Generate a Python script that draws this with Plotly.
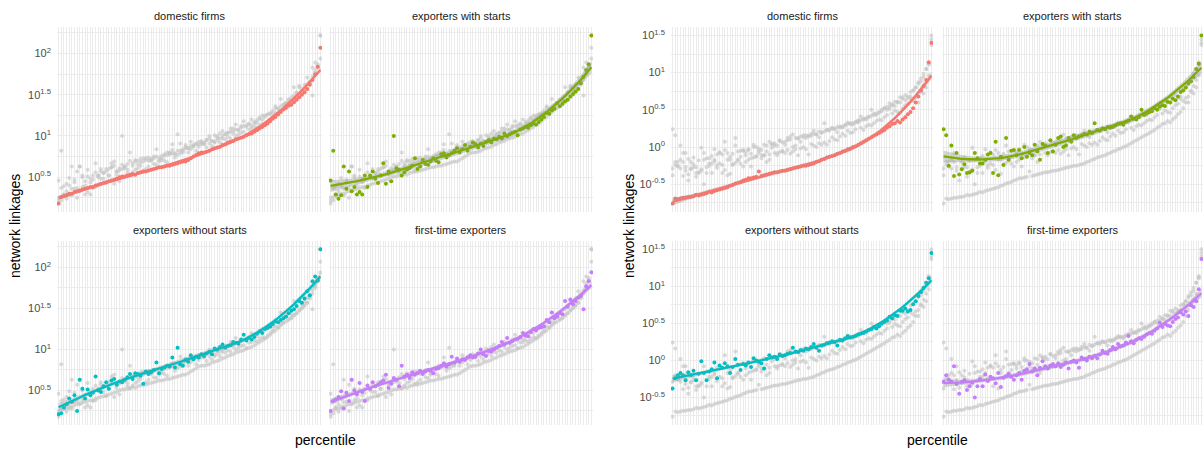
import numpy as np
import plotly.graph_objects as go

percentile = list(range(1, 101))
groups = ["domestic firms", "exporters with starts", "exporters without starts", "first-time exporters"]
colors = ["#F8766D", "#7CAE00", "#00BFC4", "#C77CFF"]

# ---- left chart: log10(network linkages) per percentile ----
left_domestic_log10 = [
    0.18, 0.26, 0.27, 0.28, 0.30, 0.30, 0.32, 0.33, 0.34, 0.35,
    0.36, 0.37, 0.38, 0.38, 0.40, 0.41, 0.42, 0.43, 0.44, 0.45,
    0.46, 0.47, 0.48, 0.50, 0.51, 0.51, 0.52, 0.53, 0.54, 0.53,
    0.55, 0.56, 0.57, 0.57, 0.58, 0.59, 0.60, 0.61, 0.62, 0.62,
    0.63, 0.64, 0.64, 0.65, 0.66, 0.67, 0.68, 0.69, 0.69, 0.71,
    0.73, 0.75, 0.77, 0.79, 0.80, 0.80, 0.81, 0.82, 0.84, 0.85,
    0.86, 0.87, 0.89, 0.90, 0.92, 0.93, 0.94, 0.96, 0.97, 0.98,
    0.99, 1.01, 1.02, 1.03, 1.05, 1.07, 1.09, 1.11, 1.13, 1.15,
    1.18, 1.21, 1.23, 1.26, 1.29, 1.32, 1.34, 1.37, 1.38, 1.41,
    1.44, 1.47, 1.50, 1.53, 1.57, 1.62, 1.68, 1.75, 1.84, 2.07]
left_with_starts_log10 = [
    0.46, 0.82, 0.29, 0.24, 0.28, 0.63, 0.36, 0.57, 0.33, 0.38,
    0.29, 0.32, 0.29, 0.52, 0.38, 0.52, 0.57, 0.48, 0.43, 0.52,
    0.67, 0.42, 0.57, 0.45, 1.00, 0.61, 0.59, 0.52, 0.56, 0.59,
    0.61, 0.64, 0.73, 0.60, 0.63, 0.71, 0.66, 0.65, 0.69, 0.73,
    0.70, 0.68, 0.78, 0.79, 0.74, 0.77, 0.79, 0.82, 0.85, 0.80,
    0.84, 0.89, 0.82, 0.87, 0.92, 0.90, 0.86, 0.91, 0.88, 0.93,
    0.95, 0.92, 0.97, 0.96, 0.99, 0.97, 1.03, 1.00, 1.02, 1.04,
    1.05, 1.01, 1.08, 1.09, 1.11, 1.10, 1.13, 1.15, 1.14, 1.17,
    1.20, 1.23, 1.28, 1.27, 1.31, 1.33, 1.40, 1.36, 1.39, 1.42,
    1.44, 1.48, 1.51, 1.54, 1.57, 1.64, 1.72, 1.80, 1.87, 2.22]
left_without_starts_log10 = [
    0.21, 0.22, 0.29, 0.33, 0.40, 0.36, 0.44, 0.25, 0.63, 0.52,
    0.40, 0.51, 0.44, 0.47, 0.67, 0.50, 0.48, 0.55, 0.60, 0.52,
    0.62, 0.64, 0.57, 0.61, 0.60, 0.63, 0.66, 0.70, 0.64, 0.71,
    0.70, 0.68, 0.58, 0.73, 0.70, 0.72, 0.75, 0.84, 0.71, 0.76,
    0.78, 0.80, 0.79, 0.90, 0.78, 1.02, 0.82, 0.80, 0.87, 0.85,
    0.93, 0.88, 0.91, 0.90, 0.94, 0.92, 0.95, 0.97, 0.94, 1.01,
    1.00, 1.03, 1.06, 1.02, 1.04, 1.05, 1.09, 1.08, 1.07, 1.12,
    1.18, 1.11, 1.14, 1.12, 1.15, 1.19, 1.22, 1.20, 1.25, 1.26,
    1.28, 1.31, 1.34, 1.33, 1.36, 1.38, 1.40, 1.44, 1.47, 1.49,
    1.53, 1.59, 1.57, 1.62, 1.71, 1.66, 1.83, 1.89, 1.84, 2.22]
left_first_time_log10 = [
    0.25, 0.37, 0.39, 0.42, 0.49, 0.28, 0.47, 0.37, 0.63, 0.50,
    0.45, 0.59, 0.48, 0.37, 0.56, 0.52, 0.60, 0.55, 0.57, 0.60,
    0.62, 0.69, 0.53, 0.58, 0.65, 0.63, 0.55, 0.80, 0.67, 0.69,
    0.65, 0.72, 0.69, 0.71, 0.74, 0.70, 0.73, 0.75, 0.74, 0.71,
    0.76, 0.77, 0.80, 0.83, 0.79, 0.82, 0.91, 0.84, 0.89, 0.85,
    0.88, 0.87, 0.90, 0.93, 0.90, 0.91, 0.95, 1.00, 0.94, 0.92,
    0.98, 0.97, 1.00, 1.02, 1.04, 1.09, 1.06, 1.14, 1.08, 1.10,
    1.12, 1.13, 1.15, 1.20, 1.17, 1.16, 1.21, 1.25, 1.23, 1.26,
    1.27, 1.28, 1.36, 1.33, 1.45, 1.38, 1.40, 1.44, 1.43, 1.59,
    1.52, 1.61, 1.55, 1.59, 1.63, 1.65, 1.49, 1.77, 1.83, 1.94]

# ---- right chart ----
right_domestic_log10 = [
    -0.76, -0.69, -0.70, -0.69, -0.68, -0.68, -0.67, -0.67, -0.66, -0.64,
    -0.65, -0.64, -0.63, -0.62, -0.60, -0.61, -0.59, -0.58, -0.57, -0.56,
    -0.55, -0.54, -0.52, -0.51, -0.49, -0.48, -0.47, -0.45, -0.44, -0.42,
    -0.42, -0.41, -0.40, -0.33, -0.39, -0.38, -0.37, -0.36, -0.35, -0.34,
    -0.34, -0.33, -0.32, -0.32, -0.31, -0.30, -0.29, -0.28, -0.27, -0.26,
    -0.25, -0.25, -0.24, -0.23, -0.22, -0.20, -0.19, -0.17, -0.16, -0.14,
    -0.13, -0.12, -0.11, -0.09, -0.08, -0.06, -0.05, -0.03, -0.02, 0.00,
    0.01, 0.03, 0.05, 0.07, 0.09, 0.11, 0.13, 0.15, 0.17, 0.19,
    0.21, 0.23, 0.26, 0.28, 0.31, 0.32, 0.35, 0.33, 0.37, 0.40,
    0.44, 0.47, 0.52, 0.60, 0.68, 0.76, 0.82, 0.90, 1.14, 1.40]
right_with_starts_log10 = [
    0.24, 0.16, -0.25, 0.02, -0.39, -0.08, -0.37, -0.30, -0.23, -0.35,
    -0.34, -0.32, -0.08, -0.15, -0.22, -0.22, -0.17, -0.10, -0.08, -0.35,
    0.07, -0.38, -0.13, -0.24, 0.12, -0.17, -0.05, -0.04, -0.11, -0.04,
    -0.15, 0.00, -0.13, -0.08, -0.11, 0.03, -0.06, -0.17, 0.04, 0.02,
    -0.08, 0.09, -0.06, 0.03, 0.12, 0.14, 0.00, 0.02, 0.12, 0.07,
    0.16, 0.12, 0.14, 0.15, 0.18, 0.17, 0.21, 0.19, 0.32, 0.23,
    0.22, 0.25, 0.24, 0.27, 0.26, 0.27, 0.29, 0.31, 0.32, 0.30,
    0.34, 0.36, 0.41, 0.38, 0.37, 0.40, 0.50, 0.43, 0.45, 0.47,
    0.48, 0.52, 0.50, 0.54, 0.56, 0.55, 0.61, 0.60, 0.65, 0.63,
    0.68, 0.74, 0.76, 0.80, 0.85, 0.88, 0.94, 1.05, 1.12, 1.50]
right_without_starts_log10 = [
    -0.38, -0.24, -0.20, -0.17, -0.20, -0.27, -0.16, -0.20, -0.14, -0.27,
    -0.18, -0.01, -0.17, -0.27, -0.15, -0.12, -0.03, -0.24, -0.07, -0.10,
    -0.04, -0.08, -0.17, -0.09, 0.02, -0.06, -0.13, -0.05, -0.07, -0.03,
    -0.09, 0.03, 0.00, -0.02, -0.04, -0.11, 0.02, 0.07, 0.04, 0.05,
    0.02, 0.08, 0.06, 0.07, 0.09, 0.10, 0.17, 0.12, 0.11, 0.14,
    0.13, 0.16, 0.15, 0.18, 0.22, 0.17, 0.13, 0.20, 0.21, 0.23,
    0.24, 0.26, 0.25, 0.20, 0.28, 0.27, 0.30, 0.33, 0.31, 0.32,
    0.33, 0.35, 0.36, 0.37, 0.39, 0.41, 0.42, 0.45, 0.43, 0.46,
    0.50, 0.52, 0.54, 0.59, 0.57, 0.61, 0.60, 0.67, 0.67, 0.70,
    0.66, 0.68, 0.76, 0.80, 0.87, 0.92, 0.98, 1.05, 1.11, 1.45]
right_first_time_log10 = [
    -0.29, -0.20, -0.26, -0.29, -0.08, -0.32, -0.45, -0.29, -0.27, -0.40,
    -0.35, -0.30, -0.50, -0.35, -0.25, -0.35, -0.19, -0.28, -0.22, -0.24,
    -0.31, -0.17, -0.36, -0.23, -0.21, -0.18, -0.22, -0.26, -0.20, -0.17,
    -0.26, -0.14, -0.12, -0.05, -0.15, -0.11, -0.20, -0.10, -0.01, -0.08,
    -0.11, -0.07, -0.05, -0.08, -0.04, -0.09, -0.06, -0.03, -0.11, -0.02,
    0.00, -0.03, -0.10, 0.04, 0.02, 0.00, 0.05, 0.03, 0.06, 0.03,
    0.08, 0.13, 0.10, 0.09, 0.14, 0.18, 0.15, 0.22, 0.19, 0.20,
    0.24, 0.33, 0.26, 0.23, 0.28, 0.30, 0.29, 0.32, 0.35, 0.37,
    0.36, 0.40, 0.43, 0.51, 0.45, 0.49, 0.47, 0.46, 0.52, 0.56,
    0.58, 0.65, 0.62, 0.66, 0.60, 0.74, 0.72, 0.80, 0.96, 1.37]

left_series = [left_domestic_log10, left_with_starts_log10, left_without_starts_log10, left_first_time_log10]
right_series = [right_domestic_log10, right_with_starts_log10, right_without_starts_log10, right_first_time_log10]

left_ticks = [("0.5", 0.5), ("1", 1.0), ("1.5", 1.5), ("2", 2.0)]
right_ticks = [("-0.5", -0.5), ("0", 0.0), ("0.5", 0.5), ("1", 1.0), ("1.5", 1.5)]

W, H = 1203, 449
FONT = "Liberation Sans, Arial, sans-serif"


def loess(x, y, xe, span=0.75):
    x = np.asarray(x, float); y = np.asarray(y, float)
    n = len(x); q = int(np.floor(n * span))

    def weights_row(x0):
        d = np.abs(x - x0)
        h = np.sort(d)[q - 1]
        w = np.clip(1 - (d / h) ** 3, 0, None) ** 3
        X = np.vstack([np.ones(n), x - x0, (x - x0) ** 2]).T
        A = X.T @ (w[:, None] * X)
        return np.linalg.solve(A, (X * w[:, None]).T)[0]

    S = np.array([weights_row(v) for v in x])
    L = np.array([weights_row(v) for v in xe])
    resid = y - S @ y
    IS = np.eye(n) - S
    d1 = np.trace(IS.T @ IS)
    sigma = np.sqrt(np.sum(resid ** 2) / d1)
    fit = L @ y
    se = sigma * np.sqrt(np.sum(L ** 2, axis=1))
    return fit, se


# panel geometry in px: (x0, x1) columns, (top, bottom) rows
charts = [
    dict(series=left_series, ticks=left_ticks, cols=[(57, 322), (329, 593)]),
    dict(series=right_series, ticks=right_ticks, cols=[(671, 933), (942, 1203)]),
]
rows = [(27, 212), (241, 425)]

fig = go.Figure()
layout = {}
annotations = []
k = 0
for c, chart in enumerate(charts):
    ser = chart["series"]
    allv = np.concatenate([np.asarray(s) for s in ser])
    lo, hi = allv.min(), allv.max()
    pad = 0.05 * (hi - lo)
    yr = [lo - pad, hi + pad]
    tvals = [10 ** v for _, v in chart["ticks"]]
    ttext = ["10<sup>%s</sup>" % t for t, _ in chart["ticks"]]
    minor_vals = [10 ** (v + 0.25) for _, v in chart["ticks"]] + [10 ** (chart["ticks"][0][1] - 0.25)]
    for g in range(4):
        k += 1
        r, col = divmod(g, 2)
        x0, x1 = chart["cols"][col]
        top, bot = rows[r]
        xa = "x%d" % k; ya = "y%d" % k
        # gray points of other groups
        gx, gy = [], []
        for o in range(4):
            if o != g:
                gx += percentile
                gy += [10 ** v for v in ser[o]]
        fig.add_trace(go.Scatter(x=gx, y=gy, mode="markers", xaxis=xa, yaxis=ya,
                                 marker=dict(size=4, color="rgba(195,195,195,0.6)"),
                                 showlegend=False, hoverinfo="skip"))
        fig.add_trace(go.Scatter(x=percentile, y=[10 ** v for v in ser[g]], mode="markers",
                                 xaxis=xa, yaxis=ya, marker=dict(size=4, color=colors[g]),
                                 showlegend=False, name=groups[g]))
        xe = np.linspace(1, 100, 80)
        fit, se = loess(percentile, ser[g], xe)
        fig.add_trace(go.Scatter(x=xe, y=10 ** (fit + 1.98 * se), mode="lines", xaxis=xa, yaxis=ya,
                                 line=dict(width=0), showlegend=False, hoverinfo="skip"))
        fig.add_trace(go.Scatter(x=xe, y=10 ** (fit - 1.98 * se), mode="lines", xaxis=xa, yaxis=ya,
                                 line=dict(width=0), fill="tonexty",
                                 fillcolor="rgba(153,153,153,0.4)", showlegend=False, hoverinfo="skip"))
        fig.add_trace(go.Scatter(x=xe, y=10 ** fit, mode="lines", xaxis=xa, yaxis=ya,
                                 line=dict(width=2.3, color=colors[g]), showlegend=False, hoverinfo="skip"))
        sfx = "" if k == 1 else str(k)
        layout["xaxis" + sfx] = dict(domain=[x0 / W, x1 / W], anchor=ya, range=[0.4, 100.6],
                                     tickmode="linear", tick0=1, dtick=1, showticklabels=False,
                                     showgrid=True, gridcolor="#EBEBEB", gridwidth=1,
                                     zeroline=False, showline=False, ticks="", fixedrange=True)
        layout["yaxis" + sfx] = dict(domain=[(H - bot) / H, (H - top) / H], anchor=xa, type="log",
                                     range=yr, tickmode="array", tickvals=tvals, ticktext=ttext,
                                     showticklabels=(col == 0), ticks="", ticklabelstandoff=5,
                                     tickfont=dict(size=11, color="#4D4D4D", family=FONT),
                                     showgrid=True, gridcolor="#EBEBEB", gridwidth=1,
                                     minor=dict(tickmode="array", tickvals=minor_vals, showgrid=True,
                                                gridcolor="#EBEBEB", gridwidth=0.6, ticks=""),
                                     zeroline=False, showline=False, fixedrange=True)
        annotations.append(dict(text=groups[g], xref="paper", yref="paper",
                                x=(x0 + x1) / 2 / W, y=(H - (top - 11)) / H,
                                xanchor="center", yanchor="middle", showarrow=False,
                                font=dict(size=11, color="#1A1A1A", family=FONT)))
    cx = (chart["cols"][0][0] + chart["cols"][1][1]) / 2
    annotations.append(dict(text="percentile", xref="paper", yref="paper", x=cx / W, y=(H - 440) / H,
                            xanchor="center", yanchor="middle", showarrow=False,
                            font=dict(size=14, color="#000000", family=FONT)))
    annotations.append(dict(text="network linkages", xref="paper", yref="paper",
                            x=(chart["cols"][0][0] - 42) / W, y=(H - 226) / H, textangle=-90,
                            xanchor="center", yanchor="middle", showarrow=False,
                            font=dict(size=14, color="#000000", family=FONT)))

fig.update_layout(width=W, height=H, margin=dict(l=0, r=0, t=0, b=0),
                  paper_bgcolor="white", plot_bgcolor="white",
                  font=dict(family=FONT), annotations=annotations, **layout)
fig.write_html("out.html")
